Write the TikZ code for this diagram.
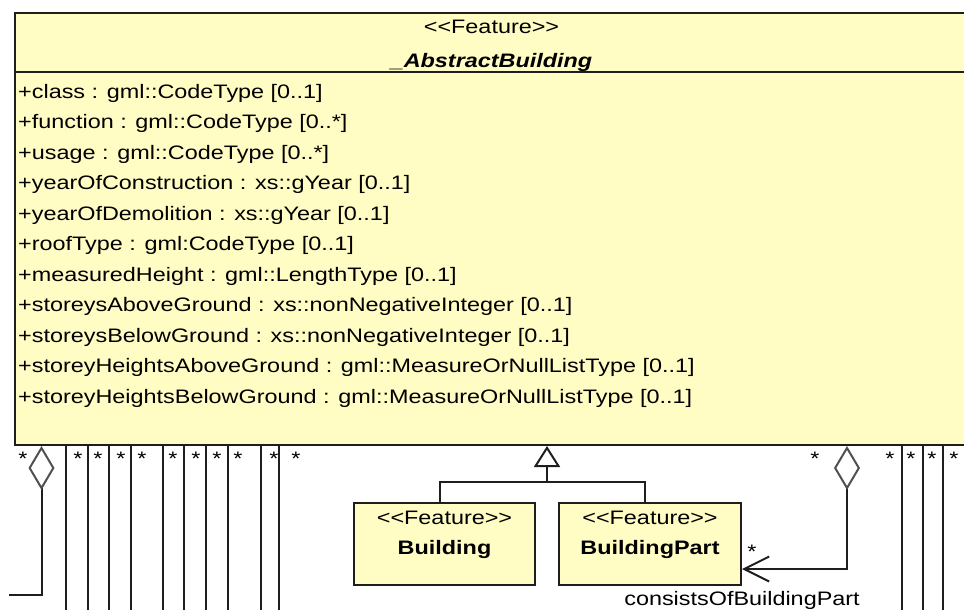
\documentclass[tikz,border=0pt]{standalone}
\usepackage{fontspec}
\setmainfont[FakeStretch=1.2]{Liberation Sans}
\usepackage{xcolor}
\usepackage{tikz}
\usetikzlibrary{positioning,arrows.meta}

\definecolor{umlyellow}{RGB}{255,252,196}
\definecolor{umlline}{RGB}{30,30,30}
\definecolor{umldiamond}{RGB}{80,80,80}
\newcommand{\umlstereo}[1]{<{}<#1>{}>}

\begin{document}
\begin{tikzpicture}[
    x=1pt, y=-1pt,
    font=\fontsize{19.5}{23}\selectfont,
    classbox/.style={rectangle, draw=umlline, line width=2pt, fill=umlyellow, inner sep=0pt, anchor=north west},
    attr/.style={inner sep=0pt, text height=14.5pt, text depth=4.5pt},
    label/.style={inner sep=0pt, anchor=base},
    mult/.style={inner sep=0pt, anchor=base},
    assoc/.style={line width=2pt, draw=umlline},
    agg/.style={assoc, {Diamond[open, length=44pt, width=26pt, line width=2pt, color=umldiamond]}-},
    gen/.style={assoc, -{Triangle[open, length=21pt, width=26pt, line width=2pt]}}
  ]
  \useasboundingbox (0,0) rectangle (964,610);
  \clip (0,0) rectangle (964,610);

  % _AbstractBuilding class
  \node[classbox, minimum width=960pt, minimum height=59pt] (abshead) at (14,12) {};
  \node[classbox, minimum width=960pt, minimum height=373pt] (absattr) at (14,71) {};
  \node[label] (absstereo) at (491.5,34) {\umlstereo{Feature}};
  \node[label, font=\fontsize{19.5}{23}\selectfont\bfseries\itshape] (absname) at (491.5,67) {\_AbstractBuilding};

  % Attributes
  \node[attr, anchor=north west] (aclass) at (18,83.5) {+class : gml::CodeType [0..1]};
  \node[attr, below=11.1pt of aclass.south west, anchor=north west] (afunction) {+function : gml::CodeType [0..*]};
  \node[attr, below=11.1pt of afunction.south west, anchor=north west] (ausage) {+usage : gml::CodeType [0..*]};
  \node[attr, below=11.1pt of ausage.south west, anchor=north west] (ayearcons) {+yearOfConstruction : xs::gYear [0..1]};
  \node[attr, below=11.1pt of ayearcons.south west, anchor=north west] (ayeardemo) {+yearOfDemolition : xs::gYear [0..1]};
  \node[attr, below=11.1pt of ayeardemo.south west, anchor=north west] (aroof) {+roofType : gml:CodeType [0..1]};
  \node[attr, below=11.1pt of aroof.south west, anchor=north west] (aheight) {+measuredHeight : gml::LengthType [0..1]};
  \node[attr, below=11.1pt of aheight.south west, anchor=north west] (astabove) {+storeysAboveGround : xs::nonNegativeInteger [0..1]};
  \node[attr, below=11.1pt of astabove.south west, anchor=north west] (astbelow) {+storeysBelowGround : xs::nonNegativeInteger [0..1]};
  \node[attr, below=11.1pt of astbelow.south west, anchor=north west] (ahtabove) {+storeyHeightsAboveGround : gml::MeasureOrNullListType [0..1]};
  \node[attr, below=11.1pt of ahtabove.south west, anchor=north west] (ahtbelow) {+storeyHeightsBelowGround : gml::MeasureOrNullListType [0..1]};

  % Building and BuildingPart
  \node[classbox, minimum width=181pt, minimum height=82pt] (building) at (353,502) {};
  \node[label] (bldstereo) at ([yshift=-22pt]building.north) {\umlstereo{Feature}};
  \node[label, font=\fontsize{19.5}{23}\selectfont\bfseries] (bldname) at ([yshift=-52pt]building.north) {Building};
  \node[classbox, minimum width=182pt, minimum height=82pt] (buildingpart) at (558,502) {};
  \node[label] (partstereo) at ([yshift=-22pt]buildingpart.north) {\umlstereo{Feature}};
  \node[label, font=\fontsize{19.5}{23}\selectfont\bfseries] (partname) at ([yshift=-52pt]buildingpart.north) {BuildingPart};

  % Generalization
  \coordinate (genjoin) at (547,482);
  \draw[assoc] ([xshift=-5pt]building.north) |- (genjoin);
  \draw[assoc] ([xshift=-5pt]buildingpart.north) |- (genjoin);
  \draw[gen] (genjoin) -- (genjoin |- absattr.south);

  % Aggregations
  \coordinate (leftend) at (9,595);
  \draw[agg] (absattr.south -| 41.5,0) |- (leftend);
  \node[mult] (multleft) at (23,465) {*};
  \draw[assoc, {Diamond[open, length=44pt, width=26pt, line width=2pt, color=umldiamond]}-{Straight Barb[length=25pt, width=25pt, line width=2pt]}]
    (absattr.south -| 847,0) |- ([yshift=-25pt]buildingpart.east);
  \node[mult] (multright) at (815,465) {*};
  \node[mult] (multpart) at (752,558) {*};
  \node[label] (roleconsists) at ([yshift=-19pt]buildingpart.south east) {consistsOfBuildingPart};

  % Other associations
  \foreach \lx/\sx in {66/78, 88/98, 109/121, 131/142, 163/173, 184/196, 206/217, 228/238, 261/274, 279/296} {
    \draw[assoc] (absattr.south -| \lx,0) -- (\lx,612);
    \node[mult] (mult\sx) at (\sx,465) {*};
  }
  \foreach \lx/\sx in {902/890, 923/911, 943/932} {
    \draw[assoc] (absattr.south -| \lx,0) -- (\lx,612);
    \node[mult] (mult\sx) at (\sx,465) {*};
  }
  \node[mult] (mult954) at (954,465) {*};
\end{tikzpicture}
\end{document}
